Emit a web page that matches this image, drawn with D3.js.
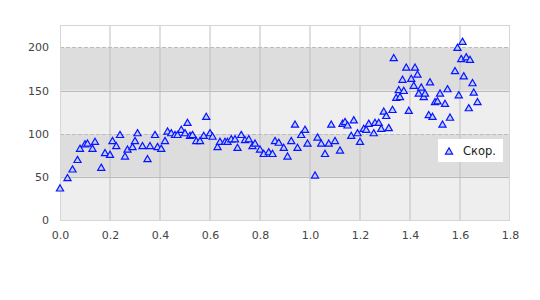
<!DOCTYPE html>
<html>
<head>
<meta charset="utf-8">
<script src="https://cdn.jsdelivr.net/npm/d3@7"></script>
<style>
  body { margin: 0; background: #fff; }
  text { font-family: "DejaVu Sans", sans-serif; }
</style>
</head>
<body>
<div id="chart"></div>
<script>
// data
var xVals = [0.00, 0.03, 0.05, 0.07, 0.08, 0.10, 0.11, 0.13, 0.14, 0.165,
  0.18, 0.20, 0.21, 0.225, 0.24, 0.26, 0.27, 0.29, 0.30, 0.31,
  0.33, 0.35, 0.36, 0.38, 0.39, 0.405, 0.42, 0.43, 0.445, 0.46,
  0.47, 0.485, 0.50, 0.51, 0.52, 0.53, 0.545, 0.56, 0.575, 0.585,
  0.60, 0.61, 0.63, 0.64, 0.66, 0.67, 0.685, 0.70, 0.71, 0.725,
  0.74, 0.755, 0.77, 0.78, 0.80, 0.815, 0.835, 0.85, 0.86, 0.875,
  0.895, 0.91, 0.925, 0.94, 0.95, 0.965, 0.98, 0.99, 1.02, 1.03,
  1.045, 1.06, 1.075, 1.085, 1.10, 1.12, 1.13, 1.14, 1.15, 1.165,
  1.175, 1.19, 1.20, 1.215, 1.225, 1.235, 1.255, 1.26, 1.275, 1.285,
  1.295, 1.305, 1.315, 1.33, 1.335, 1.345, 1.355, 1.36, 1.37, 1.375,
  1.385, 1.395, 1.405, 1.415, 1.42, 1.43, 1.435, 1.445, 1.455, 1.46,
  1.475, 1.48, 1.49, 1.50, 1.51, 1.52, 1.53, 1.54, 1.55, 1.56,
  1.575, 1.58, 1.59, 1.595, 1.605, 1.61, 1.615, 1.625, 1.635, 1.64,
  1.65, 1.655, 1.67];
var yVals = [36, 48, 58, 69, 82, 87, 88, 82, 90, 60,
  77, 75, 91, 85, 98, 73, 81, 84, 91, 100,
  85, 70, 85, 98, 84, 82, 91, 102, 100, 98,
  98, 104, 100, 112, 97, 98, 91, 91, 97, 119,
  100, 96, 84, 90, 90, 90, 93, 93, 83, 98,
  92, 93, 85, 88, 81, 76, 78, 76, 91, 89,
  83, 73, 91, 110, 83, 98, 104, 88, 51, 95,
  88, 76, 88, 110, 91, 80, 111, 113, 109, 97,
  115, 100, 90, 105, 104, 111, 100, 112, 112, 105,
  125, 120, 106, 127, 187, 141, 150, 142, 162, 149,
  176, 126, 163, 155, 176, 168, 146, 153, 142, 146,
  121, 159, 119, 136, 137, 146, 110, 134, 151, 118,
  88, 172, 199, 144, 186, 206, 166, 188, 129, 185,
  158, 147, 136];
var seriesName = "Скор.";
var xTicks = [0, 0.2, 0.4, 0.6, 0.8, 1.0, 1.2, 1.4, 1.6, 1.8];
var yTicks = [0, 50, 100, 150, 200];
var bands = [[0, 50], [50, 100], [100, 150], [150, 200]];

var width = 540, height = 300;
var margin = {top: 25, right: 30, bottom: 80, left: 60};
var w = width - margin.left - margin.right,
    h = height - margin.top - margin.bottom;

var svg = d3.select("#chart")
  .append("svg")
    .attr("width", width)
    .attr("height", height)
  .append("g")
    .attr("transform", "translate(" + margin.left + "," + margin.top + ")");

var x = d3.scaleLinear().domain([0, 1.8]).range([0, w]);
var y = d3.scaleLinear().domain([0, 226]).range([h, 0]);

// alternating bands
svg.append("g")
  .selectAll("rect")
  .data(bands)
  .enter()
  .append("rect")
    .attr("x", 0)
    .attr("width", w)
    .attr("y", function (d) { return y(d[1]); })
    .attr("height", function (d) { return y(d[0]) - y(d[1]); })
    .style("fill", function (d, i) { return i % 2 == 0 ? "#eeeeee" : "#dddddd"; });

// vertical grid
svg.append("g")
  .selectAll("line")
  .data(xTicks.slice(1, -1))
  .enter()
  .append("line")
    .attr("x1", function (d) { return x(d); })
    .attr("x2", function (d) { return x(d); })
    .attr("y1", 0)
    .attr("y2", h)
    .style("stroke", "#bfbfbf")
    .style("stroke-width", 1);

// horizontal grid
svg.append("g")
  .selectAll("line")
  .data(yTicks.slice(1))
  .enter()
  .append("line")
    .attr("x1", 0)
    .attr("x2", w)
    .attr("y1", function (d) { return Math.round(y(d)) + 0.5; })
    .attr("y2", function (d) { return Math.round(y(d)) + 0.5; })
    .style("stroke", "#bbbbbb")
    .style("stroke-width", 1)
    .style("stroke-dasharray", function (d) { return d % 100 == 0 ? "4,2" : null; });

// frame
svg.append("rect")
  .attr("x", 0.5)
  .attr("y", 0.5)
  .attr("width", w - 1)
  .attr("height", h)
  .style("fill", "none")
  .style("stroke", "#d6d6d6");

// axes
var xAxis = svg.append("g")
  .attr("transform", "translate(0," + h + ")")
  .call(d3.axisBottom(x).tickValues(xTicks).tickSize(0).tickPadding(11)
    .tickFormat(d3.format(".1f")));
var yAxis = svg.append("g")
  .call(d3.axisLeft(y).tickValues(yTicks).tickSize(0).tickPadding(11));
[xAxis, yAxis].forEach(function (a) {
  a.select(".domain").remove();
  a.selectAll("text")
    .style("font-family", "'DejaVu Sans', sans-serif")
    .style("font-size", "11px")
    .style("fill", "#444");
});

var tri = d3.symbol().type(d3.symbolTriangle).size(22);
var points = xVals.map(function (v, i) { return {x: v, y: yVals[i]}; });

// points
svg.append("g")
  .selectAll("path")
  .data(points)
  .enter()
  .append("path")
    .attr("d", tri)
    .attr("transform", function (d) { return "translate(" + x(d.x) + "," + y(d.y) + ")"; })
    .style("fill", "#b4d6f8")
    .style("stroke", "#1010ff")
    .style("stroke-width", 1.2);

// legend
var lg = svg.append("g").attr("transform", "translate(" + (438 - margin.left) + "," + (139 - margin.top) + ")");
lg.append("rect")
  .attr("width", 65)
  .attr("height", 23)
  .style("fill", "#fff");
lg.append("path")
  .attr("d", tri)
  .attr("transform", "translate(11,13)")
  .style("fill", "#b4d6f8")
  .style("stroke", "#1010ff")
  .style("stroke-width", 1.2);
lg.append("text")
  .attr("x", 25)
  .attr("y", 16)
  .style("font-size", "11.5px")
  .style("fill", "#222")
  .text(seriesName);
</script>
</body>
</html>
